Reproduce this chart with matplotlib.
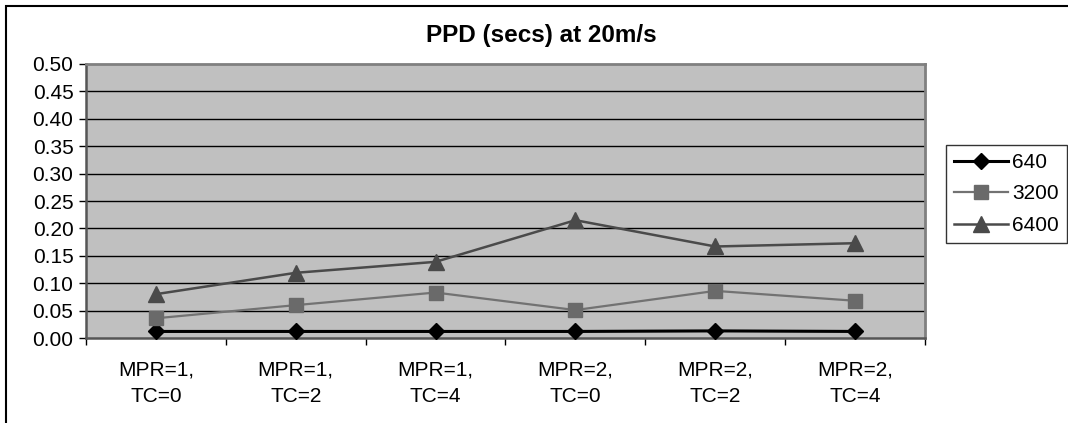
import matplotlib
matplotlib.use("Agg")
import matplotlib.pyplot as plt
from matplotlib.patches import Rectangle
import numpy as np

categories = ["MPR=1,\nTC=0", "MPR=1,\nTC=2", "MPR=1,\nTC=4",
              "MPR=2,\nTC=0", "MPR=2,\nTC=2", "MPR=2,\nTC=4"]
series_names = ["640", "3200", "6400"]
ppd_640 = [0.012, 0.012, 0.012, 0.012, 0.013, 0.012]
ppd_3200 = [0.036, 0.060, 0.083, 0.051, 0.086, 0.068]
ppd_6400 = [0.080, 0.119, 0.139, 0.215, 0.167, 0.173]
y_ticks = [0.00, 0.05, 0.10, 0.15, 0.20, 0.25, 0.30, 0.35, 0.40, 0.45, 0.50]

plt.rcParams["font.family"] = ["Liberation Sans", "DejaVu Sans"]

fig = plt.figure(figsize=(10.68, 4.23), dpi=100)
ax = fig.add_axes([0.0805, 0.2009, 0.7856, 0.6478])
ax.set_facecolor("#c0c0c0")

x = np.arange(len(categories))
styles = [
    dict(color="#000000", marker="D", markersize=8, linewidth=2.2,
         markerfacecolor="#000000", markeredgecolor="#000000"),
    dict(color="#727272", marker="s", markersize=10, linewidth=1.6,
         markerfacecolor="#6a6a6a", markeredgecolor="#6a6a6a"),
    dict(color="#4a4a4a", marker="^", markersize=11, linewidth=1.8,
         markerfacecolor="#4a4a4a", markeredgecolor="#4a4a4a"),
]
for name, vals, st in zip(series_names, [ppd_640, ppd_3200, ppd_6400], styles):
    ax.plot(x, vals, label=name, zorder=3, clip_on=False, **st)

ax.set_xlim(-0.5, len(categories) - 0.5)
ax.set_ylim(0, 0.5)
ax.set_yticks(y_ticks)
ax.set_yticklabels([f"{v:.2f}" for v in y_ticks])
for v in y_ticks[1:-1]:
    ax.axhline(v, color="#000000", linewidth=1.0, zorder=1)

# category boundaries carry the tick marks, centres carry the labels
ax.set_xticks(np.arange(-0.5, len(categories)), minor=False)
ax.set_xticklabels([])
ax.set_xticks(x, minor=True)
ax.set_xticklabels(categories, minor=True, linespacing=1.5)
ax.tick_params(axis="x", which="major", direction="out", length=5,
               width=1.0, color="#000000")
ax.tick_params(axis="x", which="minor", length=0, pad=16, labelsize=15)
ax.tick_params(axis="y", direction="out", length=5, width=1.0,
               color="#000000", labelsize=15, pad=4)

for side in ["top", "right"]:
    ax.spines[side].set_color("#808080")
    ax.spines[side].set_linewidth(2.0)
for side in ["left", "bottom"]:
    ax.spines[side].set_color("#555555")
    ax.spines[side].set_linewidth(1.8)

fig.text(0.5065, 0.915, "PPD (secs) at 20m/s", ha="center", va="center",
         fontsize=17.5, fontweight="bold")

leg = ax.legend(loc="center", bbox_to_anchor=(0.9425, 0.5414),
                bbox_transform=fig.transFigure, fontsize=15, frameon=True,
                fancybox=False, edgecolor="#000000", handlelength=2.6,
                handletextpad=0.2, borderpad=0.4, labelspacing=0.6,
                borderaxespad=0)
leg.get_frame().set_linewidth(1.0)

fig.patches.append(Rectangle((0.0056, -0.2), 1.5, 0.9858 + 0.2,
                             transform=fig.transFigure, fill=False,
                             edgecolor="#000000", linewidth=1.5))

fig.savefig("out.png", dpi=100)
